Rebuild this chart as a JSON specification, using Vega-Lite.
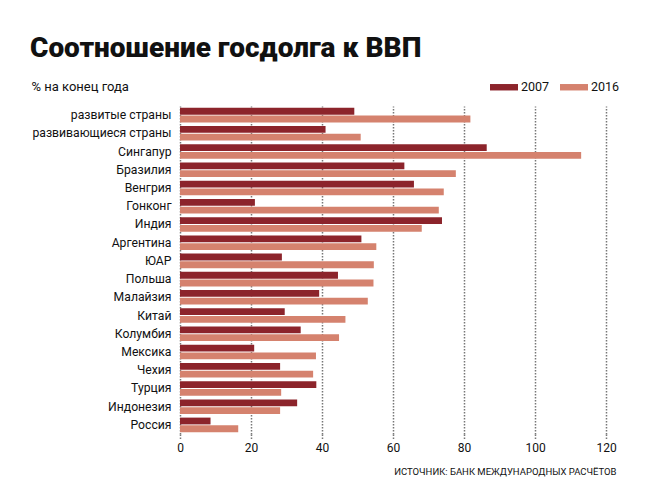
{
  "$schema": "https://vega.github.io/schema/vega-lite/v6.json",
  "width": 426,
  "height": 328,
  "autosize": {"type": "none"},
  "padding": {"left": 180, "top": 106, "right": 41, "bottom": 61},
  "background": "white",
  "title": {
    "text": "Соотношение госдолга к ВВП",
    "anchor": "start",
    "frame": "group",
    "dx": -150,
    "dy": 20,
    "fontSize": 28,
    "font": "Roboto",
    "fontWeight": 900,
    "color": "#111111",
    "baseline": "alphabetic",
    "offset": 8
  },
  "data": {
    "values": [
      {"country": "развитые страны", "year": "2007", "value": 49.1},
      {"country": "развитые страны", "year": "2016", "value": 81.8},
      {"country": "развивающиеся страны", "year": "2007", "value": 41.0},
      {"country": "развивающиеся страны", "year": "2016", "value": 50.9},
      {"country": "Сингапур", "year": "2007", "value": 86.4},
      {"country": "Сингапур", "year": "2016", "value": 113.0},
      {"country": "Бразилия", "year": "2007", "value": 63.2},
      {"country": "Бразилия", "year": "2016", "value": 77.7},
      {"country": "Венгрия", "year": "2007", "value": 65.9},
      {"country": "Венгрия", "year": "2016", "value": 74.3},
      {"country": "Гонконг", "year": "2007", "value": 21.1},
      {"country": "Гонконг", "year": "2016", "value": 72.9},
      {"country": "Индия", "year": "2007", "value": 73.8},
      {"country": "Индия", "year": "2016", "value": 68.1},
      {"country": "Аргентина", "year": "2007", "value": 51.1},
      {"country": "Аргентина", "year": "2016", "value": 55.3},
      {"country": "ЮАР", "year": "2007", "value": 28.7},
      {"country": "ЮАР", "year": "2016", "value": 54.6},
      {"country": "Польша", "year": "2007", "value": 44.5},
      {"country": "Польша", "year": "2016", "value": 54.5},
      {"country": "Малайзия", "year": "2007", "value": 39.2},
      {"country": "Малайзия", "year": "2016", "value": 52.9},
      {"country": "Китай", "year": "2007", "value": 29.5},
      {"country": "Китай", "year": "2016", "value": 46.6},
      {"country": "Колумбия", "year": "2007", "value": 34.0},
      {"country": "Колумбия", "year": "2016", "value": 44.8},
      {"country": "Мексика", "year": "2007", "value": 20.9},
      {"country": "Мексика", "year": "2016", "value": 38.3},
      {"country": "Чехия", "year": "2007", "value": 28.2},
      {"country": "Чехия", "year": "2016", "value": 37.5},
      {"country": "Турция", "year": "2007", "value": 38.4},
      {"country": "Турция", "year": "2016", "value": 28.5},
      {"country": "Индонезия", "year": "2007", "value": 33.0},
      {"country": "Индонезия", "year": "2016", "value": 28.2},
      {"country": "Россия", "year": "2007", "value": 8.6},
      {"country": "Россия", "year": "2016", "value": 16.4}
    ]
  },
  "mark": {"type": "bar"},
  "encoding": {
    "y": {
      "field": "country",
      "type": "nominal",
      "sort": null,
      "scale": {"paddingInner": 0.2, "paddingOuter": 0.1},
      "axis": {
        "title": "% на конец года",
        "titleAngle": 0,
        "titleX": -149,
        "titleY": -16,
        "titleAlign": "left",
        "titleBaseline": "alphabetic",
        "titleFont": "Roboto",
        "titleFontSize": 13,
        "titleFontWeight": "normal",
        "titleColor": "#111111",
        "domain": false,
        "ticks": false,
        "grid": false,
        "labelPadding": 9,
        "labelFont": "Roboto",
        "labelFontSize": 12.2,
        "labelColor": "#111111"
      }
    },
    "yOffset": {
      "field": "year",
      "type": "nominal",
      "scale": {"paddingInner": 0.12}
    },
    "x": {
      "field": "value",
      "type": "quantitative",
      "scale": {"domain": [0, 120], "nice": false},
      "axis": {
        "values": [0, 20, 40, 60, 80, 100, 120],
        "domain": false,
        "grid": true,
        "gridDash": [1.5, 1.5],
        "gridColor": "#777777",
        "gridWidth": 1.5,
        "tickDash": [1.5, 1.5],
        "tickColor": "#777777",
        "tickWidth": 1.5,
        "tickSize": 6,
        "labelFlush": false,
        "labelFont": "Roboto",
        "labelFontSize": 12,
        "labelColor": "#111111",
        "labelPadding": 2,
        "title": "ИСТОЧНИК: БАНК МЕЖДУНАРОДНЫХ РАСЧЁТОВ",
        "titleX": 436,
        "titleY": 40,
        "titleAnchor": "end",
        "titleAlign": "right",
        "titleBaseline": "alphabetic",
        "titleFont": "Roboto",
        "titleFontSize": 9.5,
        "titleFontWeight": "normal",
        "titleColor": "#111111"
      }
    },
    "color": {
      "field": "year",
      "type": "nominal",
      "scale": {"domain": ["2007", "2016"], "range": ["#8c242b", "#d5826e"]},
      "legend": {
        "title": null,
        "orient": "none",
        "legendX": 310,
        "legendY": -33,
        "direction": "horizontal",
        "symbolType": "M-1,-0.23H1V0.23H-1Z",
        "symbolSize": 784,
        "symbolStrokeWidth": 0,
        "labelFont": "Roboto",
        "labelFontSize": 12.5,
        "labelColor": "#111111",
        "labelOffset": 3,
        "columnPadding": 10
      }
    }
  },
  "config": {"view": {"stroke": null}}
}
